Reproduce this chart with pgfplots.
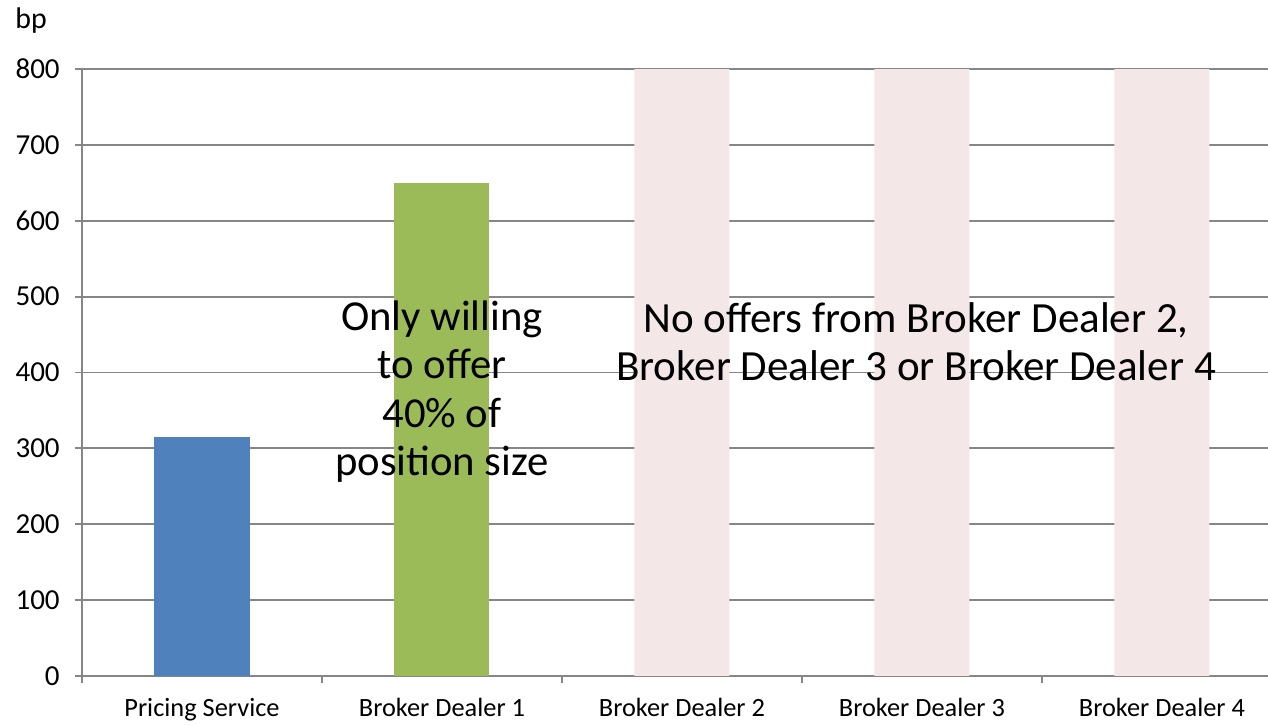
\documentclass[border=0pt]{standalone}
\usepackage{pgfplots}
\pgfplotsset{compat=1.18}
\usepackage{fontspec}
\setmainfont{Carlito}
\definecolor{gridgray}{RGB}{134,134,134}
\definecolor{barblue}{RGB}{79,129,189}
\definecolor{bargreen}{RGB}{155,187,89}
\definecolor{nooffer}{RGB}{243,231,232}

\begin{document}
\begin{tikzpicture}
\begin{axis}[name=ax,scale only axis,width=23.72cm,height=12.14cm,
  axis lines*=left,axis line style={gridgray,line width=1.1pt},
  xmin=-0.5,xmax=4.442,ymin=0,ymax=800,
  ytick={0,100,...,800},ymajorgrids=true,grid style={gridgray,line width=1.1pt},
  tick align=outside,major tick length=0.14cm,
  ytick style={gridgray,line width=1.1pt},
  xtick={0,1,2,3,4},xtick style={draw=none},
  xticklabels={Pricing Service,Broker Dealer 1,Broker Dealer 2,Broker Dealer 3,Broker Dealer 4},
  extra x ticks={-0.5,0.5,1.5,2.5,3.5},extra x tick labels={},
  extra x tick style={grid=none,xtick style={draw=gridgray,line width=1.1pt}},
  xticklabel style={font=\fontsize{15}{18}\selectfont,black,inner sep=0pt,yshift=-0.3cm},
  yticklabel style={font=\fontsize{16.5}{19}\selectfont,black,inner sep=0pt,xshift=-0.3cm},
  /pgf/number format/assume math mode=true,
  every axis plot/.append style={ybar,bar width=0.396,bar shift=0pt,draw=none}]
\addplot[fill=barblue] coordinates {(0,315)};
\addplot[fill=bargreen] coordinates {(1,650)};
\addplot[fill=nooffer] coordinates {(2,800) (3,800) (4,800)};
\node[align=center,font=\fontsize{24.3}{27.5}\selectfont,inner sep=0pt] at (axis cs:1,375) {Only willing\\to offer\\40\% of\\position size};
\node[align=center,font=\fontsize{24.5}{27.5}\selectfont,inner sep=0pt] at (axis cs:2.975,441) {No offers from Broker Dealer 2,\\Broker Dealer 3 or Broker Dealer 4};
\end{axis}
\node[anchor=base west,inner sep=0pt,font=\fontsize{17}{20}\selectfont] at ([xshift=-1.34cm,yshift=0.8cm]ax.north west) {bp};
\pgfresetboundingbox
\path[use as bounding box] (-1.64cm,-1.0cm) rectangle (23.72cm,13.52cm);
\end{tikzpicture}
\end{document}
